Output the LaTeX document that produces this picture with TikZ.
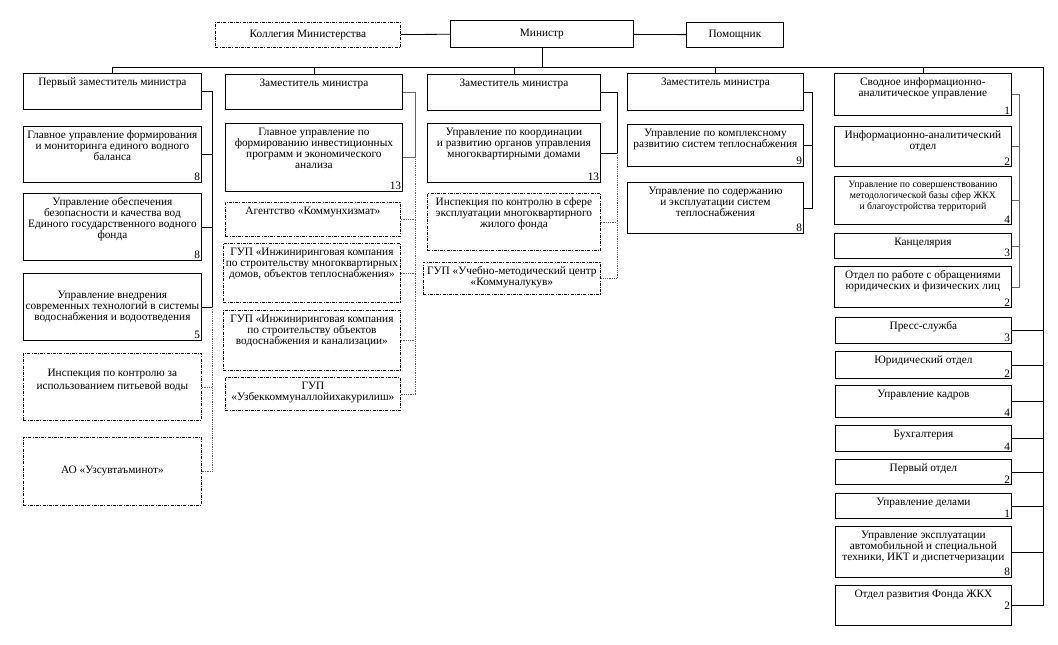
\documentclass[tikz,border=0pt]{standalone}
\usepackage{fontspec}
\setmainfont{Liberation Serif}

% box with its title set at the top
\newcommand{\orgunit}[7][unit]{%
  \node[#1, minimum width=#5pt, minimum height=#6pt] (#2) at (#3,#4) {};
  \node[txt] (#2-t) at (#2.north) {#7};}
% staff number in the lower right corner
\newcommand{\orgnum}[2]{\node[num] (#1-n) at (#1.south east) {#2};}

\begin{document}
\begin{tikzpicture}[x=1pt,y=-1pt,font=\fontsize{11.3}{11}\selectfont,
    unit/.style={draw, line width=0.8pt, anchor=north west, inner sep=0pt, align=center},
    aux/.style={unit, dash pattern=on 3pt off 1.2pt on 1pt off 1.2pt},
    txt/.style={anchor=north, align=center, inner xsep=3pt, inner ysep=4.5pt},
    num/.style={anchor=south east, inner sep=1.5pt},
    link/.style={line width=0.8pt},
    sublink/.style={line width=0.8pt, densely dotted, black!60}]
  \useasboundingbox (0,0) rectangle (1058,645);

  % --- top
  \node[aux, minimum width=185pt, minimum height=25pt] (kol) at (215,22) {Коллегия Министерства};
  \node[unit, minimum width=183pt, minimum height=27pt] (min) at (450,20) {Министр};
  \node[unit, minimum width=97pt, minimum height=25pt] (pom) at (686,22) {Помощник};
  \draw[link] (kol) -- (min);
  \draw[link] (min) -- (pom);

  % --- deputies
  \orgunit{d1}{23}{73}{178}{36}{Первый заместитель министра}
  \orgunit{d2}{225}{74}{177}{35}{Заместитель министра}
  \orgunit{d3}{427}{74}{173}{36}{Заместитель министра}
  \orgunit{d4}{627}{73}{176}{37}{Заместитель министра}
  \orgunit{c5}{834}{73}{177}{42}{Сводное информационно-\\аналитическое управление}
  \orgnum{c5}{1}
  \coordinate (bus) at (0,67);
  \coordinate (busR) at (1043,67);
  \draw[link] (d1.north |- bus) -- (busR);
  \draw[link] (min.south) -- (min.south |- bus);
  \foreach \d in {d1,d2,d3,d4,c5}{\draw[link] (\d.north) -- (\d.north |- bus);}

  % --- first deputy
  \orgunit{gu1}{23}{126}{178}{56}{Главное управление формирования\\и мониторинга единого водного\\баланса}
  \orgnum{gu1}{8}
  \orgunit{bez}{23}{193}{178}{67}{Управление обеспечения\\безопасности и качества вод\\Единого государственного водного\\фонда}
  \orgnum{bez}{8}
  \node[unit, minimum width=178pt, minimum height=67pt] (vnd) at (23,273)
    {Управление внедрения\\современных технологий в системы\\водоснабжения и водоотведения};
  \orgnum{vnd}{5}
  \node[aux, minimum width=178pt, minimum height=67pt] (insp1) at (23,353)
    {Инспекция по контролю за\\[2pt]использованием питьевой воды\\[4pt]};
  \node[aux, minimum width=178pt, minimum height=68pt] (ao) at (23,437) {АО «Узсувтаъминот»};
  \coordinate (c1) at (212,0);
  \draw[link] (d1.east) -- (d1.east -| c1) -- (vnd.east -| c1) -- (vnd.east);
  \foreach \u in {gu1,bez}{\draw[link] (\u.east) -- (\u.east -| c1);}
  \draw[sublink] (vnd.east -| c1) -- (ao.east -| c1) -- (ao.east);
  \draw[sublink] (insp1.east) -- (insp1.east -| c1);

  % --- deputy 2
  \orgunit{inv}{225}{123}{177}{68}{Главное управление по\\формированию инвестиционных\\программ и экономического\\анализа}
  \orgnum{inv}{13}
  \orgunit[aux]{agent}{225}{202}{175}{34}{Агентство «Коммунхизмат»}
  \orgunit[aux]{gup1}{223}{243}{177}{59}{ГУП «Инжиниринговая компания\\по строительству многоквартирных\\домов, объектов теплоснабжения»}
  \orgunit[aux]{gup2}{223}{310}{177}{60}{ГУП «Инжиниринговая компания\\по строительству объектов\\водоснабжения и канализации»}
  \orgunit[aux]{gup3}{225}{377}{175}{33}{ГУП\\«Узбеккоммуналлойихакурилиш»}
  \coordinate (c2) at (415,0);
  \draw[link, black!60] (d2.east) -- (d2.east -| c2) -- (inv.east -| c2) -- (inv.east);
  \draw[sublink] (inv.east -| c2) -- (gup3.east -| c2) -- (gup3.east);
  \foreach \u in {agent,gup1,gup2}{\draw[sublink] (\u.east) -- (\u.east -| c2);}

  % --- deputy 3
  \orgunit{koord}{427}{123}{173}{59}{Управление по координации\\и развитию органов управления\\многоквартирными домами}
  \orgnum{koord}{13}
  \orgunit[aux]{insp2}{427}{193}{173}{57}{Инспекция по контролю в сфере\\эксплуатации многоквартирного\\жилого фонда}
  \orgunit[aux]{gup4}{423}{262}{177}{32}{ГУП «Учебно-методический центр\\«Коммуналукув»}
  \coordinate (c3) at (617,0);
  \draw[link] (d3.east) -- (d3.east -| c3) -- (koord.east -| c3) -- (koord.east);
  \draw[sublink] (koord.east -| c3) -- (gup4.east -| c3) -- (gup4.east);
  \draw[sublink] (insp2.east) -- (insp2.east -| c3);

  % --- deputy 4
  \orgunit{kompl}{627}{124}{176}{42}{Управление по комплексному\\развитию систем теплоснабжения}
  \orgnum{kompl}{9}
  \orgunit{soder}{627}{182}{176}{51}{Управление по содержанию\\и эксплуатации систем\\теплоснабжения}
  \orgnum{soder}{8}
  \coordinate (c4) at (812,0);
  \draw[link] (d4.east) -- (d4.east -| c4) -- (soder.east -| c4) -- (soder.east);
  \draw[link] (kompl.east) -- (kompl.east -| c4);

  % --- information department
  \orgunit{ia}{834}{126}{177}{40}{Информационно-аналитический\\отдел}
  \orgnum{ia}{2}
  \orgunit{metod}{834}{176}{177}{48}{\fontsize{9.8}{10}\selectfont Управление по совершенствованию\\\fontsize{9.8}{10}\selectfont методологической базы сфер ЖКХ\\\fontsize{9.8}{10}\selectfont и благоустройства территорий}
  \orgnum{metod}{4}
  \orgunit{kanc}{834}{233}{177}{25}{Канцелярия}
  \orgnum{kanc}{3}
  \orgunit{obr}{834}{266}{177}{41}{Отдел по работе с обращениями\\юридических и физических лиц}
  \orgnum{obr}{2}
  \coordinate (c5x) at (1019,0);
  \draw[link, black!60] (c5.east) -- (c5.east -| c5x) -- (obr.east -| c5x) -- (obr.east);
  \foreach \u in {ia,metod,kanc}{\draw[link, black!60] (\u.east) -- (\u.east -| c5x);}

  % --- staff services
  \foreach \n/\y/\h/\t/\k in {press/317/26/Пресс-служба/3, jur/351/27/Юридический отдел/2,
      kadr/385/32/Управление кадров/4, buh/425/26/Бухгалтерия/4, perv/459/25/Первый отдел/2,
      dela/493/25/Управление делами/1,
      avto/526/51/{Управление эксплуатации\\автомобильной и специальной\\техники, ИКТ и диспетчеризации}/8}{
    \orgunit{\n}{835}{\y}{176}{\h}{\t}
    \orgnum{\n}{\k}
    \draw[link] (\n.east) -- (\n.east -| busR);
  }
  \orgunit{fond}{835}{585}{176}{40}{Отдел развития Фонда ЖКХ}
  \node[num, anchor=east] (fond-n) at (fond.east) {2};
  \draw[link] (busR) -- (busR |- fond.east) -- (fond.east);
\end{tikzpicture}
\end{document}
